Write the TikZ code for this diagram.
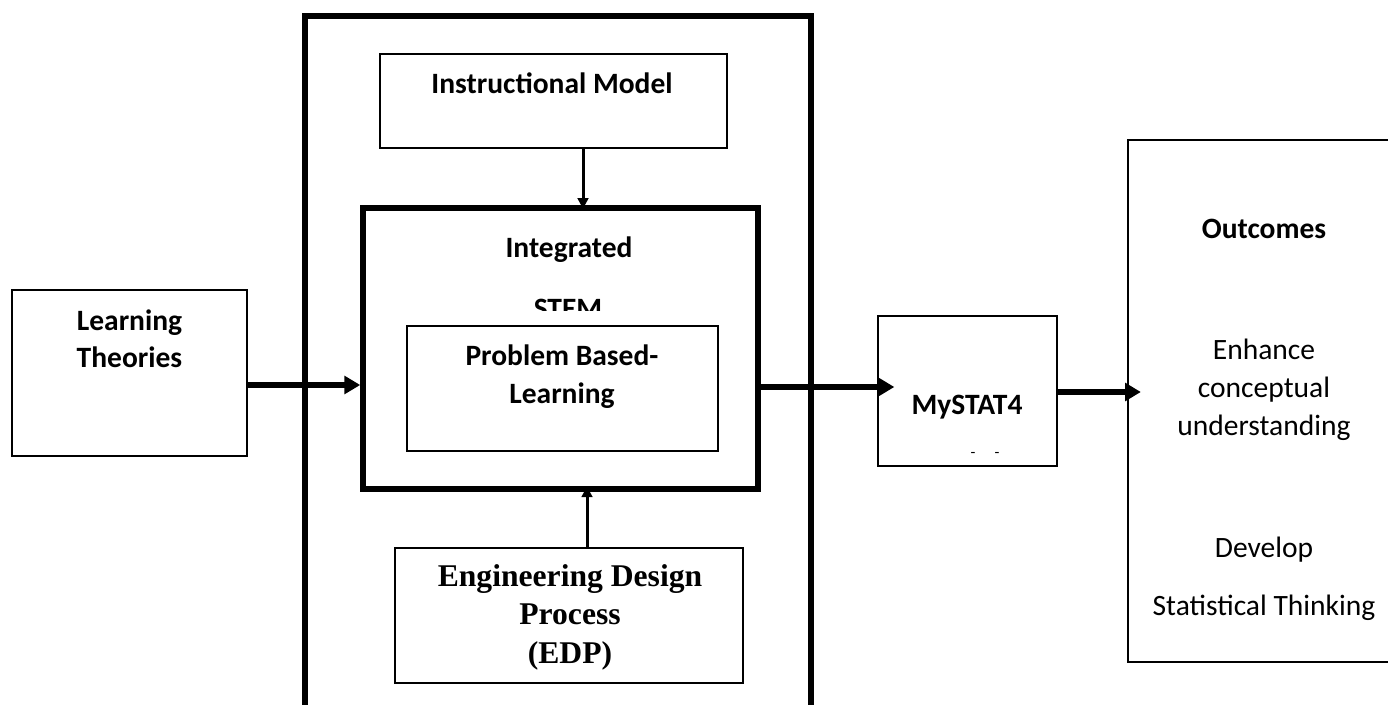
\documentclass[tikz,border=0pt]{standalone}
\usepackage{fontspec}
\setmainfont{Carlito}
\newfontfamily\edpfont{Liberation Serif}
\usetikzlibrary{arrows.meta}
\pgfdeclarelayer{edgelayer}
\pgfdeclarelayer{nodelayer}
\pgfsetlayers{edgelayer,nodelayer,main}
\tikzstyle{none}=[inner sep=0pt]
\tikzstyle{frame}=[rectangle,draw=black,line width=3.4pt,inner sep=0pt]
\tikzstyle{box}=[rectangle,draw=black,line width=1.4pt,inner sep=0pt]
\tikzstyle{thickbox}=[rectangle,draw=black,line width=3.2pt,inner sep=0pt]
\tikzstyle{lbl}=[anchor=base,align=center,inner sep=0pt,font=\fontsize{16.8}{21.5}\selectfont\bfseries]
\tikzstyle{plain}=[anchor=base,align=center,inner sep=0pt,font=\fontsize{16.8}{21.5}\selectfont]
\tikzstyle{serif}=[anchor=base,align=center,inner sep=0pt,font=\edpfont\fontsize{18}{21.8}\selectfont\bfseries]
\tikzstyle{arrow}=[-{Triangle[length=6pt,width=6pt]},draw=black,line width=1.7pt]
\tikzstyle{bigarrow}=[-{Triangle[length=9pt,width=10pt]},draw=black,line width=3.7pt]

\begin{document}
\begin{tikzpicture}[x=0.02cm,y=-0.02cm]
	\useasboundingbox (0,0) rectangle (1388,705);
	\begin{pgfonlayer}{nodelayer}
		% boxes running off the page
		\begin{scope}
			\clip (0,0) rectangle (1388,705);
			\node [style=frame, minimum width=10.12cm, minimum height=15.67cm] (0) at (558, 408) {};
			\node [style=box, minimum width=5.44cm, minimum height=10.44cm] (7) at (1264, 401) {};
		\end{scope}
		\node [style=box, minimum width=6.94cm, minimum height=1.88cm] (1) at (553.5, 101) {};
		\node [style=thickbox, minimum width=7.9cm, minimum height=5.62cm] (2) at (560.5, 348.5) {};
		\node [style=box, minimum width=6.22cm, minimum height=2.5cm] (3) at (562.5, 388.5) {};
		\node [style=box, minimum width=6.96cm, minimum height=2.7cm] (4) at (569, 615.5) {};
		\node [style=box, minimum width=4.7cm, minimum height=3.32cm] (5) at (129.5, 373) {};
		\node [style=box, minimum width=3.58cm, minimum height=3cm] (6) at (967.5, 391) {};
		% texts (multi-line ones sit on their last line)
		\node [style=lbl] (8) at (552, 94) {Instructional Model};
		\node [style=lbl] (9) at (569, 258) {Integrated};
		\begin{scope}
			\clip (380, 280) rectangle (740, 311);
			\node [style=lbl] (10) at (568, 319) {STEM};
		\end{scope}
		\node [style=lbl] (11) at (562, 403) {Problem Based-\\Learning};
		\node [style=serif] (12) at (570, 663) {Engineering Design\\Process\\(EDP)};
		\node [style=lbl] (13) at (129.5, 368) {Learning\\Theories};
		\node [style=lbl] (14) at (967, 415) {MySTAT4};
		\node [style=none, anchor=base, font=\fontsize{9}{10}\selectfont] (15) at (985, 457) {-\hspace{10.8pt}-};
		\node [style=lbl] (16) at (1264, 239) {Outcomes};
		\node [style=plain] (17) at (1264, 435) {Enhance\\conceptual\\understanding};
		\node [style=plain] (18) at (1264, 615) {Develop\\[11.4pt]Statistical Thinking};
	\end{pgfonlayer}
	\begin{pgfonlayer}{edgelayer}
		\draw [style=arrow, shorten >=-2pt] (1.south -| 583,0) to (2.north -| 583,0);
		\draw [style=arrow, shorten >=-3pt] (4.north -| 587,0) to (2.south -| 587,0);
		\draw [style=bigarrow] (5.east |- 0,385) to (2.west |- 0,385);
		\draw [style=bigarrow, shorten >=-10pt] (2.east |- 0,387) to (6.west |- 0,387);
		\draw [style=bigarrow, shorten >=-8pt] (6.east |- 0,392) to (7.west |- 0,392);
	\end{pgfonlayer}
\end{tikzpicture}
\end{document}
